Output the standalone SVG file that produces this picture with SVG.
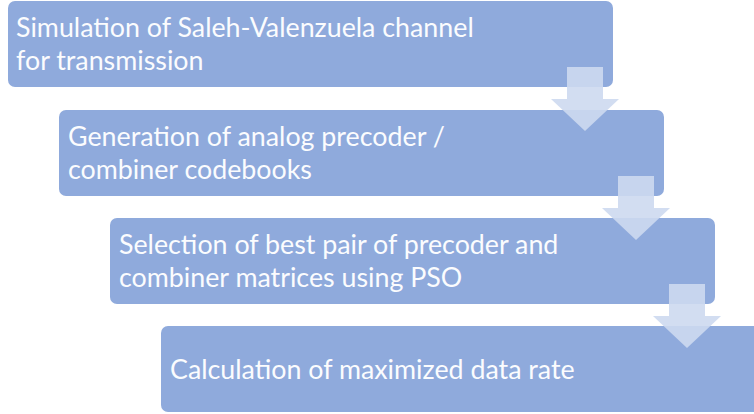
<svg xmlns="http://www.w3.org/2000/svg" width="754" height="414" viewBox="0 0 754 414">
<defs>
<style>
.box{fill:#8faadc;}
.arr{fill:#cdd9ef;fill-opacity:0.9;}
.t{font-family:Lato,"Liberation Sans",sans-serif;font-size:26.8px;fill:#fbfcfe;}
</style>
<path id="arrow" d="M0,0 H36 V32 H52 L18,64 L-16,32 H0 Z"/>
</defs>
<rect width="754" height="414" fill="#ffffff"/>
<g id="node1"><rect class="box" x="8" y="1" width="605" height="86" rx="7"/>
<text class="t" x="16" y="37">Simulation of Saleh-Valenzuela channel</text>
<text class="t" x="16" y="70">for transmission</text></g>
<g id="node2"><rect class="box" x="59" y="110" width="605" height="86" rx="7"/>
<text class="t" x="68" y="146">Generation of analog precoder /</text>
<text class="t" x="68" y="179">combiner codebooks</text></g>
<g id="node3"><rect class="box" x="110" y="218" width="605" height="86" rx="7"/>
<text class="t" x="119" y="254">Selection of best pair of precoder and</text>
<text class="t" x="119" y="287">combiner matrices using PSO</text></g>
<g id="node4"><rect class="box" x="161" y="326" width="605" height="86" rx="7"/>
<text class="t" x="170" y="379">Calculation of maximized data rate</text></g>
<g id="connectors">
<use href="#arrow" class="arr" x="567" y="67"/>
<use href="#arrow" class="arr" x="618" y="176"/>
<use href="#arrow" class="arr" x="669" y="284"/>
</g>
</svg>
